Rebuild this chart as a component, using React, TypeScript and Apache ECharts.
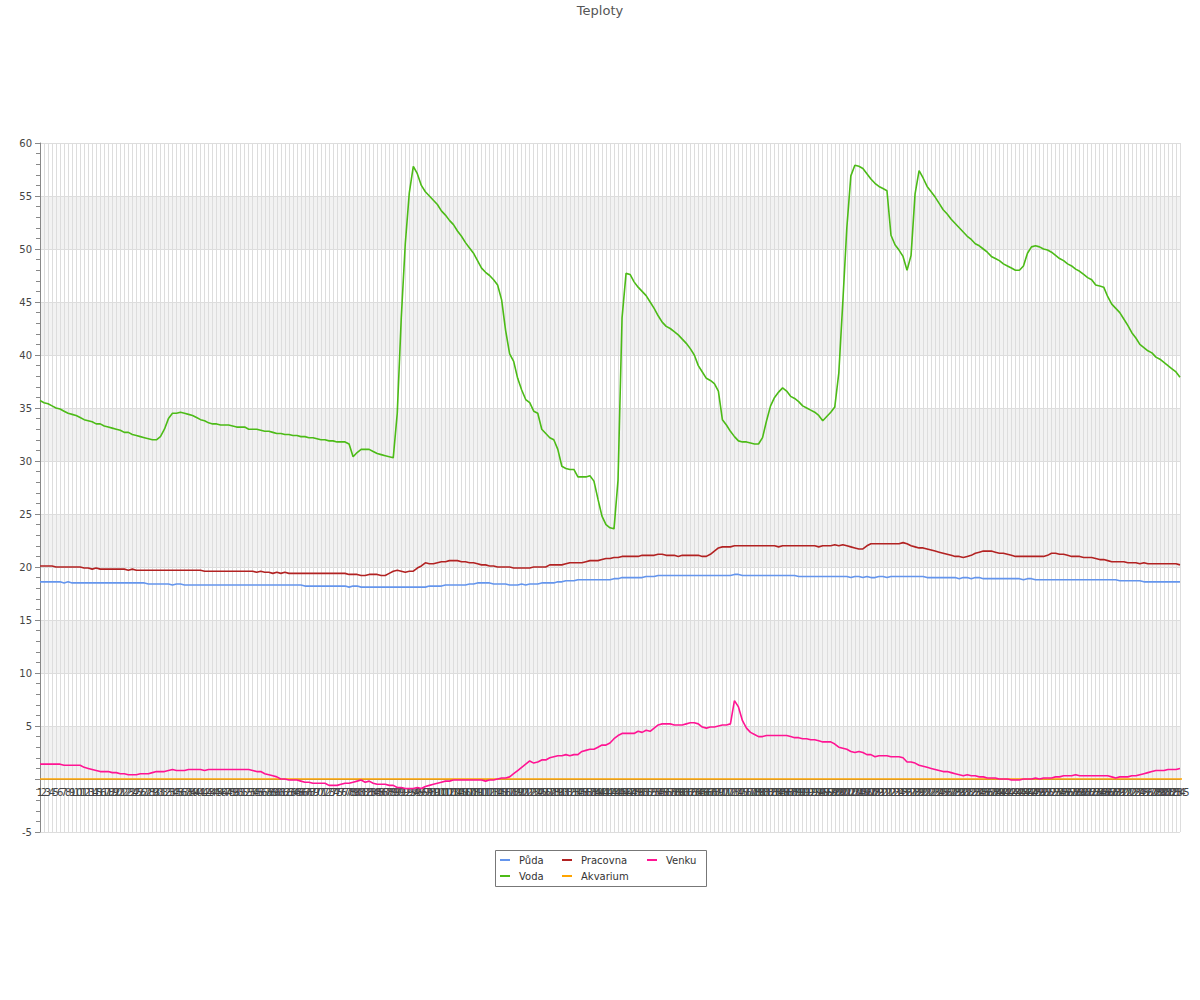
import React, { useEffect, useRef } from "react";
import * as echarts from "echarts";

const TITLE = "Teploty";
const SERIES_NAMES = ["Půda", "Voda", "Pracovna", "Akvarium", "Venku"];
const SERIES_COLORS = ["#6495ED", "#4CBB17", "#B22222", "#FFA500", "#FF1493"];
const CATEGORIES = Array.from({ length: 285 }, (_, i) => String(i + 1));
const Y_MIN = -5;
const Y_MAX = 60;
const Y_STEP = 5;

const puda = [
  18.6,18.6,18.6,18.6,18.6,18.6,18.5,18.6,18.5,18.5,
  18.5,18.5,18.5,18.5,18.5,18.5,18.5,18.5,18.5,18.5,
  18.5,18.5,18.5,18.5,18.5,18.5,18.5,18.4,18.4,18.4,
  18.4,18.4,18.4,18.3,18.4,18.4,18.3,18.3,18.3,18.3,
  18.3,18.3,18.3,18.3,18.3,18.3,18.3,18.3,18.3,18.3,
  18.3,18.3,18.3,18.3,18.3,18.3,18.3,18.3,18.3,18.3,
  18.3,18.3,18.3,18.3,18.3,18.3,18.2,18.2,18.2,18.2,
  18.2,18.2,18.2,18.2,18.2,18.2,18.2,18.1,18.2,18.2,
  18.1,18.1,18.1,18.1,18.1,18.1,18.1,18.1,18.1,18.1,
  18.1,18.1,18.1,18.1,18.1,18.1,18.1,18.2,18.2,18.2,
  18.2,18.3,18.3,18.3,18.3,18.3,18.3,18.4,18.4,18.5,
  18.5,18.5,18.5,18.4,18.4,18.4,18.4,18.3,18.3,18.3,
  18.4,18.3,18.4,18.4,18.4,18.5,18.5,18.5,18.5,18.6,
  18.6,18.7,18.7,18.7,18.8,18.8,18.8,18.8,18.8,18.8,
  18.8,18.8,18.8,18.9,18.9,19.0,19.0,19.0,19.0,19.0,
  19.0,19.1,19.1,19.1,19.2,19.2,19.2,19.2,19.2,19.2,
  19.2,19.2,19.2,19.2,19.2,19.2,19.2,19.2,19.2,19.2,
  19.2,19.2,19.2,19.3,19.3,19.2,19.2,19.2,19.2,19.2,
  19.2,19.2,19.2,19.2,19.2,19.2,19.2,19.2,19.2,19.1,
  19.1,19.1,19.1,19.1,19.1,19.1,19.1,19.1,19.1,19.1,
  19.1,19.1,19.0,19.1,19.1,19.0,19.1,19.0,19.0,19.1,
  19.1,19.0,19.1,19.1,19.1,19.1,19.1,19.1,19.1,19.1,
  19.1,19.0,19.0,19.0,19.0,19.0,19.0,19.0,19.0,18.9,
  19.0,19.0,18.9,19.0,19.0,18.9,18.9,18.9,18.9,18.9,
  18.9,18.9,18.9,18.9,18.9,18.8,18.9,18.9,18.8,18.8,
  18.8,18.8,18.8,18.8,18.8,18.8,18.8,18.8,18.8,18.8,
  18.8,18.8,18.8,18.8,18.8,18.8,18.8,18.8,18.8,18.7,
  18.7,18.7,18.7,18.7,18.7,18.6,18.6,18.6,18.6,18.6,
  18.6,18.6,18.6,18.6,18.6,
];

const voda = [
  35.7,35.5,35.4,35.2,35.0,34.9,34.7,34.5,34.4,34.3,
  34.1,33.9,33.8,33.7,33.5,33.5,33.3,33.2,33.1,33.0,
  32.9,32.7,32.7,32.5,32.4,32.3,32.2,32.1,32.0,32.0,
  32.3,33.0,34.0,34.5,34.5,34.6,34.5,34.4,34.3,34.1,
  33.9,33.8,33.6,33.5,33.5,33.4,33.4,33.4,33.3,33.2,
  33.2,33.2,33.0,33.0,33.0,32.9,32.8,32.8,32.7,32.6,
  32.6,32.5,32.5,32.4,32.4,32.3,32.3,32.2,32.2,32.1,
  32.0,32.0,31.9,31.9,31.8,31.8,31.8,31.6,30.4,30.8,
  31.1,31.1,31.1,30.9,30.7,30.6,30.5,30.4,30.3,34.5,
  43.5,50.5,55.3,57.8,57.1,56.0,55.4,55.0,54.6,54.2,
  53.6,53.2,52.7,52.3,51.7,51.2,50.6,50.1,49.6,48.9,
  48.2,47.8,47.5,47.1,46.6,45.2,42.3,40.1,39.4,37.8,
  36.7,35.8,35.5,34.7,34.5,33.0,32.6,32.2,32.0,31.1,
  29.5,29.3,29.2,29.2,28.5,28.5,28.5,28.6,28.1,26.4,
  24.8,24.0,23.7,23.6,28.2,43.5,47.7,47.6,46.9,46.4,
  46.0,45.6,45.0,44.4,43.7,43.1,42.7,42.5,42.2,41.9,
  41.5,41.1,40.6,40.0,39.0,38.4,37.8,37.6,37.3,36.6,
  33.9,33.4,32.8,32.3,31.9,31.8,31.8,31.7,31.6,31.6,
  32.2,33.8,35.2,36.0,36.5,36.9,36.6,36.1,35.9,35.6,
  35.2,35.0,34.8,34.6,34.3,33.8,34.2,34.6,35.1,38.3,
  45.0,52.0,56.9,57.9,57.8,57.6,57.1,56.6,56.2,55.9,
  55.7,55.5,51.3,50.4,49.9,49.3,48.0,49.4,55.2,57.4,
  56.7,55.9,55.4,54.9,54.3,53.7,53.3,52.8,52.4,52.0,
  51.6,51.2,50.9,50.5,50.3,50.0,49.7,49.3,49.1,48.9,
  48.6,48.4,48.2,48.0,48.0,48.4,49.6,50.2,50.3,50.2,
  50.0,49.9,49.7,49.4,49.1,48.9,48.6,48.4,48.1,47.9,
  47.6,47.3,47.1,46.6,46.5,46.4,45.5,44.8,44.4,44.0,
  43.4,42.8,42.1,41.6,41.0,40.7,40.4,40.2,39.8,39.6,
  39.3,39.0,38.7,38.4,37.9,
];

const pracovna = [
  20.1,20.1,20.1,20.1,20.0,20.0,20.0,20.0,20.0,20.0,
  20.0,19.9,19.9,19.8,19.9,19.8,19.8,19.8,19.8,19.8,
  19.8,19.8,19.7,19.8,19.7,19.7,19.7,19.7,19.7,19.7,
  19.7,19.7,19.7,19.7,19.7,19.7,19.7,19.7,19.7,19.7,
  19.7,19.6,19.6,19.6,19.6,19.6,19.6,19.6,19.6,19.6,
  19.6,19.6,19.6,19.6,19.5,19.6,19.5,19.5,19.4,19.5,
  19.4,19.5,19.4,19.4,19.4,19.4,19.4,19.4,19.4,19.4,
  19.4,19.4,19.4,19.4,19.4,19.4,19.4,19.3,19.3,19.3,
  19.2,19.2,19.3,19.3,19.3,19.2,19.2,19.4,19.6,19.7,
  19.6,19.5,19.6,19.6,19.9,20.1,20.4,20.3,20.3,20.4,
  20.5,20.5,20.6,20.6,20.6,20.5,20.5,20.4,20.4,20.3,
  20.2,20.2,20.1,20.1,20.0,20.0,20.0,20.0,19.9,19.9,
  19.9,19.9,19.9,20.0,20.0,20.0,20.0,20.2,20.2,20.2,
  20.2,20.3,20.4,20.4,20.4,20.4,20.5,20.6,20.6,20.6,
  20.7,20.8,20.8,20.9,20.9,21.0,21.0,21.0,21.0,21.0,
  21.1,21.1,21.1,21.1,21.2,21.2,21.1,21.1,21.1,21.0,
  21.1,21.1,21.1,21.1,21.1,21.0,21.0,21.2,21.5,21.8,
  21.9,21.9,21.9,22.0,22.0,22.0,22.0,22.0,22.0,22.0,
  22.0,22.0,22.0,22.0,21.9,22.0,22.0,22.0,22.0,22.0,
  22.0,22.0,22.0,22.0,21.9,22.0,22.0,22.0,22.1,22.0,
  22.1,22.0,21.9,21.8,21.7,21.7,22.0,22.2,22.2,22.2,
  22.2,22.2,22.2,22.2,22.2,22.3,22.2,22.0,21.9,21.8,
  21.8,21.7,21.6,21.5,21.4,21.3,21.2,21.1,21.0,21.0,
  20.9,21.0,21.1,21.3,21.4,21.5,21.5,21.5,21.4,21.3,
  21.3,21.2,21.1,21.0,21.0,21.0,21.0,21.0,21.0,21.0,
  21.0,21.1,21.3,21.3,21.2,21.2,21.1,21.0,21.0,21.0,
  20.9,20.9,20.9,20.8,20.7,20.7,20.6,20.5,20.5,20.5,
  20.5,20.4,20.4,20.4,20.3,20.4,20.3,20.3,20.3,20.3,
  20.3,20.3,20.3,20.3,20.2,
];

const akvarium = [
  0,0,0,0,0,0,0,0,0,0, 0,0,0,0,0,0,0,0,0,0, 0,0,0,0,0,0,0,0,0,0,
  0,0,0,0,0,0,0,0,0,0, 0,0,0,0,0,0,0,0,0,0, 0,0,0,0,0,0,0,0,0,0,
  0,0,0,0,0,0,0,0,0,0, 0,0,0,0,0,0,0,0,0,0, 0,0,0,0,0,0,0,0,0,0,
  0,0,0,0,0,0,0,0,0,0, 0,0,0,0,0,0,0,0,0,0, 0,0,0,0,0,0,0,0,0,0,
  0,0,0,0,0,0,0,0,0,0, 0,0,0,0,0,0,0,0,0,0, 0,0,0,0,0,0,0,0,0,0,
  0,0,0,0,0,0,0,0,0,0, 0,0,0,0,0,0,0,0,0,0, 0,0,0,0,0,0,0,0,0,0,
  0,0,0,0,0,0,0,0,0,0, 0,0,0,0,0,0,0,0,0,0, 0,0,0,0,0,0,0,0,0,0,
  0,0,0,0,0,0,0,0,0,0, 0,0,0,0,0,0,0,0,0,0, 0,0,0,0,0,0,0,0,0,0,
  0,0,0,0,0,0,0,0,0,0, 0,0,0,0,0,0,0,0,0,0, 0,0,0,0,0,0,0,0,0,0,
  0,0,0,0,0,0,0,0,0,0, 0,0,0,0,0,0,0,0,0,0, 0,0,0,0,0,0,0,0,0,0,
  0,0,0,0,0,0,0,0,0,0, 0,0,0,0,0,0,0,0,0,0, 0,0,0,0,0,0,0,0,0,0,
  0,0,0,0,0,0,0,0,0,0, 0,0,0,0,0,0,0,0,0,0, 0,0,0,0,0,0,0,0,0,0,
  0,0,0,0,0,0,0,0,0,0, 0,0,0,0,0,0,0,0,0,0, 0,0,0,0,0,0,0,0,0,0,
  0,0,0,0,0,0,0,0,0,0, 0,0,0,0,0,0,0,0,0,0, 0,0,0,0,0,0,0,0,0,0,
  0,0,0,0,0,0,0,0,0,0, 0,0,0,0,0,0,0,0,0,0, 0,0,0,0,0,0,0,0,0,0,
  0,0,0,0,0,0,0,0,0,0, 0,0,0,0,0,0,0,0,0,0, 0,0,0,0,0,0,0,0,0,0,
  0,0,0,0,0,0,0,0,0,0, 0,0,0,0,0,0,0,0,0,0, 0,0,0,0,0,0,0,0,0,0,
  0,0,0,0,0,0,0,0,0,0, 0,0,0,0,0,0,0,0,0,0, 0,0,0,0,0,0,0,0,0,0,
  0,0,0,0,0,0,0,0,0,0, 0,0,0,0,0,0,0,0,0,0, 0,0,0,0,0,0,0,0,0,0,
  0,0,0,0,0,0,0,0,0,0, 0,0,0,0,0,0,0,0,0,0, 0,0,0,0,0,0,0,0,0,0,
  0,0,0,0,0,0,0,0,0,0, 0,0,0,0,0,0,0,0,0,0, 0,0,0,0,0,0,0,0,0,0,
  0,0,0,0,0,0,0,0,0,0, 0,0,0,0,0,0,0,0,0,0, 0,0,0,0,0,0,0,0,0,0,
  0,0,0,0,0,0,0,0,0,0, 0,0,0,0,0,0,0,0,0,0, 0,0,0,0,0,0,0,0,0,0,
  0,0,0,0,0,0,0,0,0,0, 0,0,0,0,0,0,0,0,0,0, 0,0,0,0,0,0,0,0,0,0,
  0,0,0,0,0,0,0,0,0,0, 0,0,0,0,0,0,0,0,0,0, 0,0,0,0,0,0,0,0,0,0,
  0,0,0,0,0,0,0,0,0,0, 0,0,0,0,0,0,0,0,0,0, 0,0,0,0,0,0,0,0,0,0,
  0,0,0,0,0,0,0,0,0,0, 0,0,0,0,0,0,0,0,0,0, 0,0,0,0,0,0,0,0,0,0,
  0,0,0,0,0,0,0,0,0,0, 0,0,0,0,0,0,0,0,0,0, 0,0,0,0,0,0,0,0,0,0,
  0,0,0,0,0,0,0,0,0,0, 0,0,0,0,0,0,0,0,0,0, 0,0,0,0,0,0,0,0,0,0,
  0,0,0,0,0,0,0,0,0,0, 0,0,0,0,0,0,0,0,0,0, 0,0,0,0,0,0,0,0,0,0,
  0,0,0,0,0,0,0,0,0,0, 0,0,0,0,0,0,0,0,0,0, 0,0,0,0,0,0,0,0,0,0,
];

const venku = [
  1.4,1.4,1.4,1.4,1.4,1.4,1.3,1.3,1.3,1.3,
  1.3,1.1,1.0,0.9,0.8,0.7,0.7,0.7,0.6,0.6,
  0.5,0.5,0.4,0.4,0.4,0.5,0.5,0.5,0.6,0.7,
  0.7,0.7,0.8,0.9,0.8,0.8,0.8,0.9,0.9,0.9,
  0.9,0.8,0.9,0.9,0.9,0.9,0.9,0.9,0.9,0.9,
  0.9,0.9,0.9,0.8,0.7,0.7,0.5,0.4,0.3,0.2,
  0.0,0.0,-0.1,-0.1,-0.1,-0.2,-0.3,-0.3,-0.4,-0.4,
  -0.4,-0.4,-0.6,-0.6,-0.6,-0.5,-0.4,-0.4,-0.3,-0.2,
  -0.1,-0.3,-0.2,-0.4,-0.5,-0.5,-0.5,-0.6,-0.6,-0.8,
  -0.8,-0.9,-0.9,-0.9,-0.8,-0.9,-0.7,-0.6,-0.5,-0.4,
  -0.3,-0.2,-0.2,-0.1,-0.1,-0.1,-0.1,-0.1,-0.1,-0.1,
  -0.1,-0.2,-0.1,-0.1,0.0,0.1,0.1,0.2,0.5,0.8,
  1.1,1.4,1.7,1.5,1.6,1.8,1.8,2.0,2.1,2.2,
  2.2,2.3,2.2,2.3,2.3,2.6,2.7,2.8,2.8,3.0,
  3.2,3.2,3.4,3.8,4.1,4.3,4.3,4.3,4.3,4.5,
  4.4,4.6,4.5,4.8,5.1,5.2,5.2,5.2,5.1,5.1,
  5.1,5.2,5.3,5.3,5.2,4.9,4.8,4.9,4.9,5.0,
  5.1,5.1,5.2,7.4,6.8,5.5,4.8,4.4,4.2,4.0,
  4.0,4.1,4.1,4.1,4.1,4.1,4.1,4.0,3.9,3.9,
  3.8,3.8,3.7,3.7,3.6,3.5,3.5,3.5,3.3,3.0,
  2.9,2.8,2.6,2.5,2.6,2.5,2.3,2.3,2.1,2.2,
  2.2,2.2,2.1,2.1,2.1,2.0,1.6,1.6,1.5,1.3,
  1.2,1.1,1.0,0.9,0.8,0.7,0.7,0.6,0.5,0.4,
  0.3,0.4,0.3,0.3,0.2,0.2,0.1,0.1,0.1,0.0,
  0.0,0.0,-0.1,-0.1,-0.1,0.0,0.0,0.0,0.1,0.0,
  0.1,0.1,0.1,0.2,0.2,0.3,0.3,0.3,0.4,0.3,
  0.3,0.3,0.3,0.3,0.3,0.3,0.3,0.2,0.1,0.2,
  0.2,0.2,0.3,0.3,0.4,0.5,0.6,0.7,0.8,0.8,
  0.8,0.9,0.9,0.9,1.0,
];

const SERIES_DATA = [puda, voda, pracovna, akvarium, venku];
const FONT = "DejaVu Sans";
const GRID_TOP = 143;
const GRID_BOTTOM_PX = 832;

export default function App() {
  const ref = useRef<HTMLDivElement>(null);

  useEffect(() => {
    if (!ref.current) return;
    const chart = echarts.init(ref.current, null, { renderer: "svg" });

    // distance from grid bottom to the zero line, in pixels
    const zeroOffset =
      ((0 - Y_MIN) / (Y_MAX - Y_MIN)) * (GRID_BOTTOM_PX - GRID_TOP);

    const legendBase = {
      orient: "vertical",
      top: 854,
      padding: 0,
      itemGap: 4,
      itemWidth: 10,
      itemHeight: 2,
      icon: "rect",
      selectedMode: false,
      textStyle: {
        fontFamily: FONT,
        fontSize: 10,
        color: "#333",
        lineHeight: 12,
        padding: [0, 0, 0, 4],
      },
    };

    chart.setOption({
      animation: false,
      backgroundColor: "#ffffff",
      textStyle: { fontFamily: FONT },
      title: {
        text: TITLE,
        left: "center",
        top: 4,
        padding: 0,
        textStyle: {
          fontFamily: FONT,
          fontSize: 13,
          fontWeight: "normal",
          color: "#555",
        },
      },
      legend: [
        { ...legendBase, left: 500, data: [SERIES_NAMES[0], SERIES_NAMES[1]] },
        { ...legendBase, left: 562, data: [SERIES_NAMES[2], SERIES_NAMES[3]] },
        { ...legendBase, left: 647, data: [SERIES_NAMES[4]] },
      ],
      graphic: [
        {
          type: "rect",
          shape: { x: 495.5, y: 850.5, width: 211, height: 36 },
          style: { fill: "none", stroke: "#777", lineWidth: 1 },
          silent: true,
        },
      ],
      grid: { left: 40, right: 20, top: GRID_TOP, bottom: 1000 - GRID_BOTTOM_PX, containLabel: false },
      xAxis: {
        type: "category",
        data: CATEGORIES,
        boundaryGap: false,
        offset: -zeroOffset,
        axisLine: { onZero: false, lineStyle: { color: "#888", width: 1 } },
        axisTick: { show: false },
        axisLabel: {
          interval: 0,
          fontFamily: FONT,
          fontSize: 10,
          color: "#444",
          margin: 8,
        },
        splitLine: { show: true, interval: 0, lineStyle: { color: "#dddddd", width: 1 } },
      },
      yAxis: {
        type: "value",
        min: Y_MIN,
        max: Y_MAX,
        interval: Y_STEP,
        axisLine: { show: true, lineStyle: { color: "#888", width: 1 } },
        axisTick: { show: true, length: 5, lineStyle: { color: "#888" } },
        minorTick: { show: true, splitNumber: 5, length: 4, lineStyle: { color: "#888" } },
        axisLabel: {
          fontFamily: FONT,
          fontSize: 10,
          color: "#444",
          margin: 8,
          formatter: (v: number) => (v === 0 ? "" : String(v)),
        },
        splitLine: { show: true, lineStyle: { color: "#dddddd", width: 1 } },
        splitArea: { show: true, areaStyle: { color: ["rgba(255,255,255,0)", "#f2f2f2"] } },
      },
      series: SERIES_NAMES.map((name, k) => ({
        name,
        type: "line",
        data: SERIES_DATA[k],
        showSymbol: false,
        symbol: "none",
        smooth: false,
        color: SERIES_COLORS[k],
        lineStyle: { width: 1.6, color: SERIES_COLORS[k] },
        emphasis: { disabled: true },
      })),
    });

    return () => chart.dispose();
  }, []);

  return (
    <div
      ref={ref}
      style={{ position: "fixed", left: 0, top: 0, width: 1200, height: 1000 }}
    />
  );
}
